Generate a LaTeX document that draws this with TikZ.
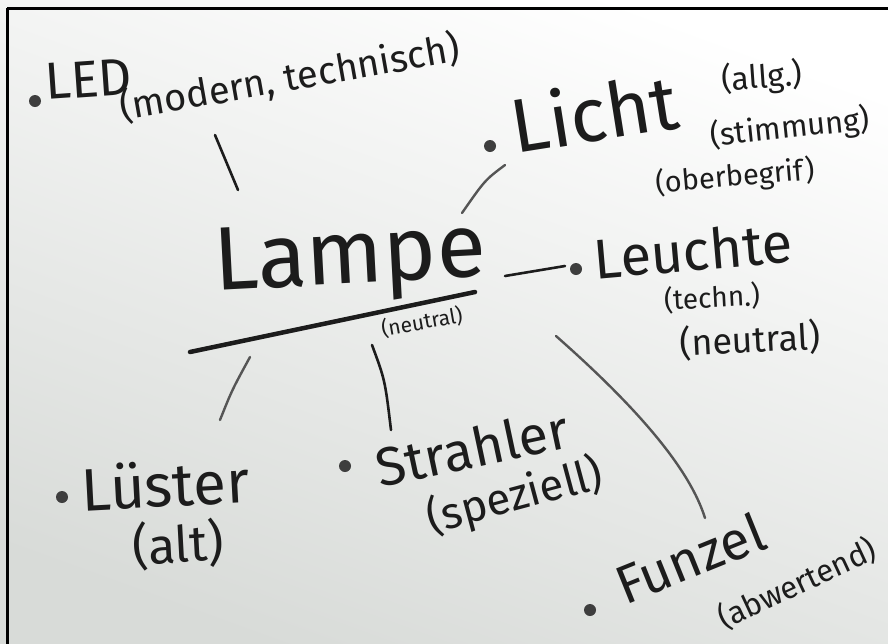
\documentclass[tikz,border=0pt]{standalone}
\usepackage{fontspec}
\setmainfont{Fira Sans}
\definecolor{ink}{HTML}{1C1C1C}
\definecolor{inkgray}{HTML}{555555}
\definecolor{board}{HTML}{D8DBD8}
\tikzset{
  hw/.style={font=\fontsize{#1}{#1}\selectfont, inner sep=0pt, text=ink},
  dotb/.style={circle, fill=ink!85, inner sep=0pt, minimum size=12pt},
  strokel/.style={draw=ink, line width=2.6pt, line cap=round},
  strokeg/.style={draw=inkgray, line width=2.4pt, line cap=round},
}
\begin{document}
\begin{tikzpicture}[x=1pt,y=-1pt]
\useasboundingbox (0,0) rectangle (888,643);
\shade[top color=white, middle color=white!96!board, bottom color=board, shading angle=-20] (-10,-10) rectangle (900,655);
% frame
\draw[black, line width=3pt] (7,8) coordinate (fa) -- (890,8) coordinate (fb);
\draw[black, line width=3pt] (7,8) coordinate (fc) -- (7,650) coordinate (fd);

% LED
\node[dotb] (ledd) at (35,101) {};
\node[hw=52, anchor=base west, rotate=4] (led) at (46,100) {LED};
\node[hw=38, rotate=10] (ledsub) at (290,78) {(modern, technisch)};

% Licht
\node[dotb] (lichtd) at (490,146) {};
\node[hw=76, rotate=9] (licht) at (594,112) {Licht};
\node[hw=32, rotate=4] (allg) at (762,78) {(allg.)};
\node[hw=31, rotate=6] (stimm) at (790,128) {(stimmung)};
\node[hw=29, rotate=5] (ober) at (735,177) {(oberbegrif)};

% Lampe
\node[hw=90, rotate=3] (lampe) at (350,262) {Lampe};
\node[hw=21, rotate=10] (lneutral) at (422,322) {(neutral)};
\coordinate (ulA) at (190,352);
\coordinate (ulB) at (475,292);
\draw[draw=ink, line width=4.5pt, line cap=round] (ulA) -- (ulB);

% Leuchte
\node[dotb] (leuchted) at (576,269) {};
\node[hw=56, rotate=5] (leuchte) at (693,250) {Leuchte};
\node[hw=28, rotate=3] (techn) at (712,298) {(techn.)};
\node[hw=36, rotate=3] (rneutral) at (750,340) {(neutral)};

% Luester
\node[dotb] (luesterd) at (62,497) {};
\node[hw=60, rotate=3] (luester) at (165,484) {Lüster};
\node[hw=50, rotate=3] (alt) at (178,545) {(alt)};

% Strahler
\node[dotb] (strahlerd) at (345,466) {};
\node[hw=54, rotate=12] (strahler) at (472,448) {Strahler};
\node[hw=44, rotate=15] (spez) at (515,497) {(speziell)};

% Funzel
\node[dotb] (funzeld) at (590,610) {};
\node[hw=54, rotate=22] (funzel) at (690,558) {Funzel};
\node[hw=31, rotate=25] (abw) at (797,584) {(abwertend)};

% connector strokes
\coordinate (c1a) at (215,135); \coordinate (c1b) at (238,190);
\draw[strokel] (c1a) -- (c1b);
\coordinate (c2a) at (505,165); \coordinate (c2b) at (462,213);
\draw[strokeg] (c2a) .. controls (485,180) .. (c2b);
\coordinate (c3a) at (505,276); \coordinate (c3b) at (565,266);
\draw[strokel] (c3a) -- (c3b);
\coordinate (c4a) at (250,357); \coordinate (c4b) at (220,420);
\draw[strokeg] (c4a) .. controls (232,390) .. (c4b);
\coordinate (c5a) at (372,345); \coordinate (c5b) at (391,430);
\draw[strokel] (c5a) .. controls (385,380) .. (c5b);
\coordinate (c6a) at (556,336); \coordinate (c6b) at (705,518);
\draw[strokeg] (c6a) .. controls (640,410) and (690,470) .. (c6b);
\end{tikzpicture}
\end{document}
